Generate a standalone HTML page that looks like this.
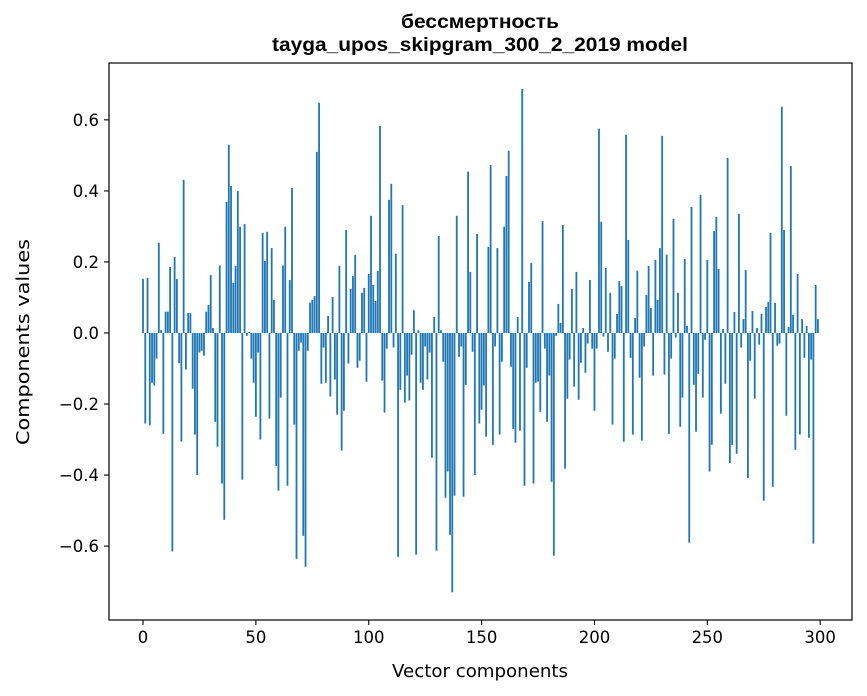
<!DOCTYPE html>
<html><head><meta charset="utf-8"><style>
html,body{margin:0;padding:0;background:#fff;}
svg{display:block;font-family:"DejaVu Sans","Liberation Sans",sans-serif;}
.title{font-family:"Liberation Sans","DejaVu Sans",sans-serif;}
</style></head><body>
<svg id="chart" width="867" height="696" viewBox="0 0 867 696" xmlns="http://www.w3.org/2000/svg">
<rect x="0" y="0" width="867" height="696" fill="#fff"/>
<text class="title" x="480" y="28" text-anchor="middle" font-size="19" font-weight="bold" textLength="158" lengthAdjust="spacingAndGlyphs">бессмертность</text>
<text class="title" x="480" y="51" text-anchor="middle" font-size="19" font-weight="bold" textLength="416" lengthAdjust="spacingAndGlyphs">tayga_upos_skipgram_300_2_2019 model</text>
<g id="bars"></g>
<rect x="109" y="63" width="743" height="557" fill="none" stroke="#000" stroke-width="1.2"/>
<g id="xticks"></g>
<g id="yticks"></g>
<text x="480" y="677" text-anchor="middle" font-size="18" textLength="176" lengthAdjust="spacingAndGlyphs">Vector components</text>
<text transform="translate(29,342) rotate(-90)" text-anchor="middle" font-size="18" textLength="206" lengthAdjust="spacingAndGlyphs">Components values</text>
</svg>
<script>
const values = [
0.152,-0.255,0.155,-0.26,-0.14,-0.148,-0.072,0.254,0.008,-0.284,
0.06,0.06,0.186,-0.615,0.214,0.152,-0.085,-0.306,0.431,-0.103,
0.056,0.056,-0.157,-0.286,-0.40,-0.055,-0.05,-0.064,0.06,0.079,
0.163,0.014,-0.25,-0.32,0.19,-0.424,-0.526,0.369,0.53,0.414,
0.141,0.189,0.40,0.299,-0.413,0.307,-0.008,0.003,-0.072,-0.14,
-0.236,-0.055,-0.30,0.282,0.203,0.285,-0.241,0.239,0.093,-0.374,
-0.444,-0.182,0.19,0.299,-0.43,0.149,0.408,-0.258,-0.636,-0.05,
-0.027,-0.571,-0.658,-0.05,0.085,0.093,0.104,0.51,0.648,-0.143,
-0.041,-0.14,0.048,-0.179,0.101,-0.131,-0.23,0.189,-0.331,-0.219,
0.29,-0.086,0.124,0.16,0.22,-0.098,-0.078,0.113,0.127,-0.137,
0.166,0.33,0.135,0.09,0.175,0.583,-0.134,-0.224,-0.044,0.375,
0.42,-0.041,0.223,-0.63,-0.16,0.36,-0.196,-0.12,-0.19,-0.061,
0.064,-0.624,0.008,-0.14,-0.16,-0.038,-0.131,-0.055,-0.351,0.045,
-0.613,0.273,0.008,-0.081,-0.464,-0.39,-0.568,-0.73,-0.458,0.33,
-0.067,-0.038,-0.461,-0.146,0.454,0.172,-0.053,-0.40,0.279,-0.255,
-0.216,-0.148,-0.292,0.242,0.473,-0.315,-0.038,0.239,-0.286,-0.081,
0.299,0.442,0.513,-0.095,-0.27,-0.309,0.045,-0.275,0.687,-0.43,
-0.098,0.144,0.197,-0.424,-0.14,-0.137,-0.222,0.315,-0.044,-0.25,
-0.12,-0.419,-0.627,-0.008,0.082,0.028,0.304,-0.382,-0.185,-0.075,
0.124,-0.151,0.172,-0.188,-0.084,0.014,-0.112,-0.03,0.149,-0.044,
-0.219,-0.044,0.575,0.313,-0.01,0.183,-0.053,0.113,-0.258,-0.072,
0.054,0.146,0.132,-0.306,0.558,0.262,-0.07,-0.286,0.042,0.175,
-0.126,-0.303,-0.038,0.107,0.189,0.07,-0.12,0.206,0.093,0.239,
0.555,-0.117,0.22,-0.284,-0.072,0.321,-0.013,0.113,-0.264,-0.182,
0.208,0.02,-0.59,0.355,-0.146,-0.278,-0.115,0.389,-0.182,-0.019,
0.206,-0.39,-0.315,0.287,0.327,0.18,-0.227,0.011,-0.143,0.493,
-0.366,-0.315,0.059,-0.34,0.335,-0.041,0.039,0.177,-0.408,-0.078,
0.062,-0.185,0.014,-0.033,0.054,-0.472,0.073,0.087,0.282,-0.433,
0.085,-0.036,-0.03,0.637,0.29,-0.233,0.017,0.47,0.051,-0.329,
0.166,-0.286,0.039,-0.07,0.02,-0.295,-0.075,-0.593,0.135,0.039
];
const xTicks = [0,50,100,150,200,250,300];
const yTicks = [-0.6,-0.4,-0.2,0.0,0.2,0.4,0.6];
const yTickLabels = ["−0.6","−0.4","−0.2","0.0","0.2","0.4","0.6"];

const NS = "http://www.w3.org/2000/svg";
const PL = 109, PR = 852, PT = 63, PB = 620;
const XMIN = -15.07, XMAX = 314.1, YMIN = -0.808, YMAX = 0.76;
function xs(v){ return PL + (v - XMIN) / (XMAX - XMIN) * (PR - PL); }
function ys(v){ return PB - (v - YMIN) / (YMAX - YMIN) * (PB - PT); }

const barsG = document.getElementById('bars');
values.forEach((v, i) => {
  const r = document.createElementNS(NS, 'rect');
  const x0 = xs(i - 0.4), x1 = xs(i + 0.4);
  const y0 = ys(Math.max(v, 0)), y1 = ys(Math.min(v, 0));
  r.setAttribute('x', x0);
  r.setAttribute('width', x1 - x0);
  r.setAttribute('y', y0);
  r.setAttribute('height', Math.max(y1 - y0, 0.3));
  r.setAttribute('fill', '#1f77b4');
  
  
  barsG.appendChild(r);
});

const xg = document.getElementById('xticks');
xTicks.forEach(t => {
  const x = xs(t);
  const l = document.createElementNS(NS, 'line');
  l.setAttribute('x1', x); l.setAttribute('x2', x);
  l.setAttribute('y1', PB); l.setAttribute('y2', PB + 5);
  l.setAttribute('stroke', '#000'); l.setAttribute('stroke-width', '1.1');
  
  
  xg.appendChild(l);
  const tx = document.createElementNS(NS, 'text');
  tx.setAttribute('x', x); tx.setAttribute('y', PB + 23);
  tx.setAttribute('text-anchor', 'middle'); tx.setAttribute('font-size', '16.5');
  tx.textContent = String(t);
  
  
  xg.appendChild(tx);
});

const yg = document.getElementById('yticks');
yTicks.forEach((t, i) => {
  const y = ys(t);
  const l = document.createElementNS(NS, 'line');
  l.setAttribute('x1', PL - 5); l.setAttribute('x2', PL);
  l.setAttribute('y1', y); l.setAttribute('y2', y);
  l.setAttribute('stroke', '#000'); l.setAttribute('stroke-width', '1.1');
  
  
  yg.appendChild(l);
  const tx = document.createElementNS(NS, 'text');
  tx.setAttribute('x', PL - 10); tx.setAttribute('y', y + 6);
  tx.setAttribute('text-anchor', 'end'); tx.setAttribute('font-size', '16.5');
  tx.textContent = yTickLabels[i];
  
  
  yg.appendChild(tx);
});
</script>
</body></html>
